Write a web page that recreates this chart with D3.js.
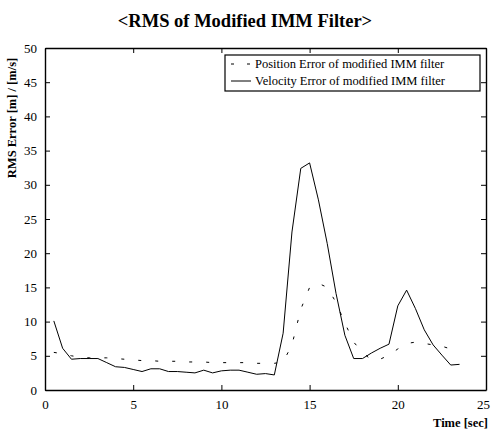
<!DOCTYPE html>
<html>
<head>
<meta charset="utf-8">
<script src="https://cdn.jsdelivr.net/npm/d3@7/dist/d3.min.js"></script>
<style>
  body { margin: 0; background: #fff; }
  text { font-family: "Liberation Serif", "DejaVu Serif", serif; }
</style>
</head>
<body>
<div id="chart"></div>
<script>
// time samples [sec]
var timePos = [0.5, 1, 1.5, 2, 2.5, 3, 3.5, 4, 4.5, 5, 5.5, 6, 6.5, 7, 7.5, 8, 8.5, 9, 9.5, 10,
    10.5, 11, 11.5, 12, 12.5, 13, 13.5, 14, 14.5, 15, 15.5, 16, 16.5, 17, 17.5, 18, 18.5, 19, 19.5, 20,
    20.5, 21, 21.5, 22, 22.5, 23];
var positionError = [5.5, 5.3, 5.0, 4.8, 4.7, 4.7, 4.7, 4.6, 4.5, 4.4, 4.3, 4.3, 4.2, 4.2, 4.2, 4.1, 4.1, 4.1, 4.0, 4.0,
    4.0, 4.0, 4.0, 3.9, 3.9, 3.9, 4.1, 6.6, 11.8, 15.0, 15.6, 15.0, 12.8, 9.8, 7.0, 5.5, 4.4, 4.5, 5.1, 6.0,
    6.8, 7.0, 6.8, 6.6, 6.4, 6.0];

var timeVel = [0.5, 1, 1.5, 2, 2.5, 3, 3.5, 4, 4.5, 5, 5.5, 6, 6.5, 7, 7.5, 8, 8.5, 9, 9.5, 10,
    10.5, 11, 11.5, 12, 12.5, 13, 13.5, 14, 14.5, 15, 15.5, 16, 16.5, 17, 17.5, 18, 18.5, 19, 19.5, 20,
    20.5, 21, 21.5, 22, 22.5, 23, 23.5];
var velocityError = [10.1, 6.1, 4.5, 4.6, 4.6, 4.6, 4.0, 3.4, 3.3, 3.0, 2.7, 3.1, 3.1, 2.7, 2.7, 2.6, 2.5, 2.9, 2.5, 2.8,
    2.9, 2.9, 2.6, 2.3, 2.4, 2.2, 8.3, 23.1, 32.4, 33.2, 27.8, 21.4, 14.1, 8.0, 4.6, 4.6, 5.4, 6.1, 6.7, 12.3,
    14.6, 11.9, 8.8, 6.6, 5.1, 3.65, 3.75];

var xTicks = [0, 5, 10, 15, 20, 25];
var yTicks = [0, 5, 10, 15, 20, 25, 30, 35, 40, 45, 50];
var legendLabels = ['Position Error of modified IMM filter', 'Velocity Error of modified IMM filter'];

var width = 491, height = 434;
var margin = { top: 48, right: 5, bottom: 44, left: 45 };
var w = width - margin.left - margin.right;
var h = height - margin.top - margin.bottom;
var dash = '3,14';

var svg = d3.select('#chart').append('svg')
    .attr('width', width)
    .attr('height', height);

var g = svg.append('g')
    .attr('transform', 'translate(' + margin.left + ',' + margin.top + ')');

var x = d3.scaleLinear().domain([0, 25]).range([0, w]);
var y = d3.scaleLinear().domain([0, 50]).range([h, 0]);

// axes with inward ticks, MATLAB style box
var tickLen = 5;
g.append('g')
    .attr('transform', 'translate(0,' + h + ')')
    .call(d3.axisBottom(x).tickValues(xTicks).tickSizeInner(-tickLen).tickSizeOuter(0).tickPadding(10))
    .call(styleAxis)
    .selectAll('.tick text')
    .attr('dx', function (d) { return d === 25 ? -3 : 0; });
g.append('g')
    .call(d3.axisTop(x).tickValues(xTicks).tickSizeInner(-tickLen).tickSizeOuter(0).tickFormat(''))
    .call(styleAxis);
g.append('g')
    .call(d3.axisLeft(y).tickValues(yTicks).tickSizeInner(-tickLen).tickSizeOuter(0).tickPadding(8))
    .call(styleAxis);
g.append('g')
    .attr('transform', 'translate(' + w + ',0)')
    .call(d3.axisRight(y).tickValues(yTicks).tickSizeInner(-tickLen).tickSizeOuter(0).tickFormat(''))
    .call(styleAxis);

function styleAxis(sel) {
    sel.select('.domain').attr('stroke', '#000').attr('stroke-width', 1.4);
    sel.selectAll('.tick line').attr('stroke', '#000').attr('stroke-width', 1);
    sel.selectAll('.tick text')
        .attr('fill', '#000')
        .style('font-family', '"Liberation Serif", serif')
        .style('font-size', '13px');
}

var line = d3.line()
    .x(function (d) { return x(d[0]); })
    .y(function (d) { return y(d[1]); });

var posData = timePos.map(function (t, i) { return [t, positionError[i]]; });
var velData = timeVel.map(function (t, i) { return [t, velocityError[i]]; });

g.append('path')
    .datum(posData)
    .attr('d', line)
    .attr('fill', 'none')
    .attr('stroke', '#000')
    .attr('stroke-width', 1)
    .attr('stroke-dasharray', dash);

g.append('path')
    .datum(velData)
    .attr('d', line)
    .attr('fill', 'none')
    .attr('stroke', '#000')
    .attr('stroke-width', 1);

// legend
var legend = svg.append('g').attr('transform', 'translate(225,55)');
legend.append('rect')
    .attr('width', 255)
    .attr('height', 36)
    .attr('fill', '#fff')
    .attr('stroke', '#000')
    .attr('stroke-width', 1.2);
legendLabels.forEach(function (label, i) {
    var ly = 9 + i * 17;
    legend.append('line')
        .attr('x1', 6).attr('x2', 26)
        .attr('y1', ly).attr('y2', ly)
        .attr('stroke', '#000')
        .attr('stroke-width', 1)
        .attr('stroke-dasharray', i === 0 ? '3,13' : null);
    legend.append('text')
        .attr('x', 30)
        .attr('y', ly + 4)
        .style('font-size', '12.5px')
        .text(label);
});

// title and axis labels
svg.append('text')
    .attr('x', 245)
    .attr('y', 27)
    .attr('text-anchor', 'middle')
    .style('font-size', '18.5px')
    .style('font-weight', 'bold')
    .text('<RMS of Modified IMM Filter>');

svg.append('text')
    .attr('transform', 'translate(16,118) rotate(-90)')
    .attr('text-anchor', 'middle')
    .style('font-size', '12.5px')
    .style('font-weight', 'bold')
    .text('RMS Error [m] / [m/s]');

svg.append('text')
    .attr('x', 488)
    .attr('y', 427)
    .attr('text-anchor', 'end')
    .style('font-size', '12.5px')
    .style('font-weight', 'bold')
    .text('Time [sec]');
</script>
</body>
</html>
